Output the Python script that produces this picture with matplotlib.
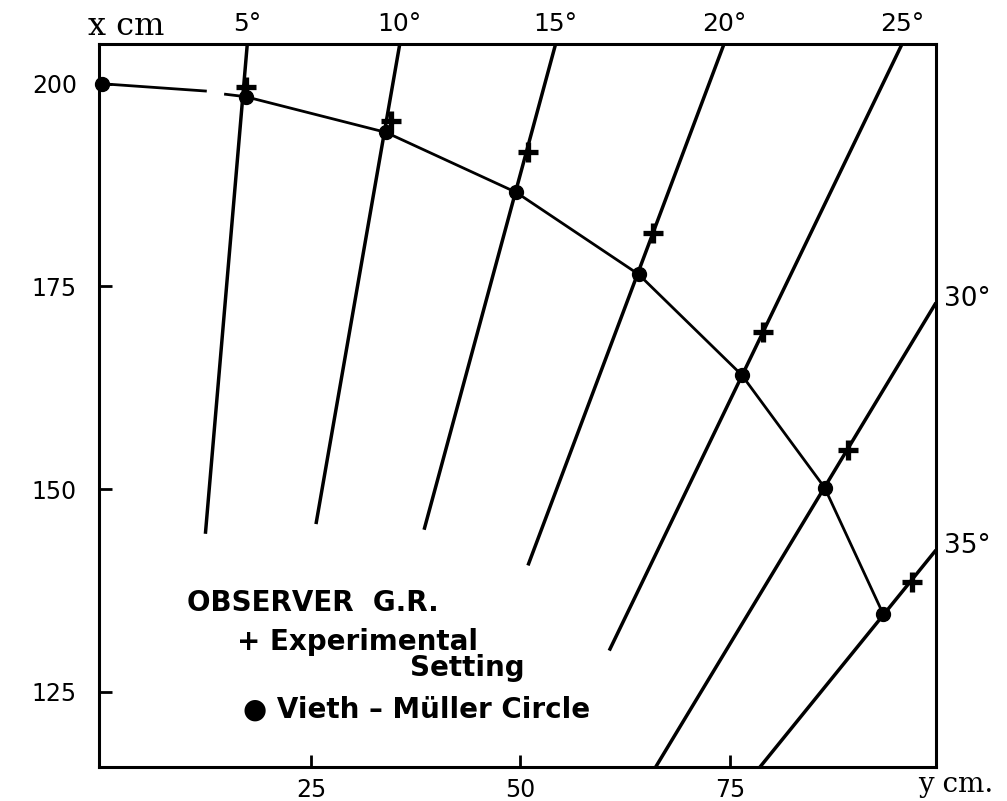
import numpy as np
import matplotlib
matplotlib.use("Agg")
import matplotlib.pyplot as plt

# Vieth-Muller circle points (y cm across, x cm straight ahead)
circle_y = [0, 17.2, 33.95, 49.5, 64.1, 76.4, 86.3, 93.3]
circle_x = [200.0, 198.4, 194.0, 186.6, 176.5, 164.1, 150.2, 134.6]

# drawn arc through those points (the ink breaks just left of 5 deg)
arc_y = [0, 12.4, np.nan, 14.8, 17.2, 33.95, 49.5, 64.1, 76.4, 86.3, 93.3]
arc_x = [200.0, 199.1, np.nan, 198.7, 198.4, 194.0, 186.6, 176.5, 164.1, 150.2, 134.6]

# experimental settings, one per direction
angles = [5, 10, 15, 20, 25, 30, 35]
setting_y = [17.3, 34.55, 50.9, 65.8, 78.9, 89.1, 96.75]
setting_x = [199.6, 195.4, 191.6, 181.6, 169.4, 154.8, 138.5]

# direction lines: start on the frame, end lower down
ray_y0 = [17.4, 35.6, 54.2, 74.3, 95.55, 99.6, 99.6]
ray_x0 = [204.9, 204.9, 204.9, 204.9, 204.9, 173.0, 142.5]
ray_y1 = [12.4, 25.6, 38.5, 50.9, 60.6, 66.0, 78.4]
ray_x1 = [144.5, 145.7, 145.0, 140.6, 130.1, 115.5, 115.5]

y_ticks = [25, 50, 75]
x_ticks = [125, 150, 175, 200]

fig = plt.figure(figsize=(10.07, 8.01), dpi=100)
ax = fig.add_axes([0.0983, 0.0425, 0.8312, 0.9026])

# direction lines
for a, y0, x0, y1, x1 in zip(angles, ray_y0, ray_x0, ray_y1, ray_x1):
    ax.plot([y0, y1], [x0, x1], color='black', lw=2.5, solid_capstyle='butt')
    if x0 > 200:
        ax.annotate(f"{a}°", xy=(y0, x0), xytext=(0, 6), textcoords='offset points',
                    ha='center', va='bottom', fontsize=18, annotation_clip=False)
    else:
        ax.annotate(f"{a}°", xy=(y0, x0), xytext=(6, 3), textcoords='offset points',
                    ha='left', va='center', fontsize=19, annotation_clip=False)

# the circle and its points
ax.plot(arc_y, arc_x, color='black', lw=2.0, zorder=3)
ax.plot(circle_y, circle_x, 'o', color='black', ms=10, zorder=4, clip_on=False)
ax.plot(setting_y, setting_x, '+', color='black', ms=14, mew=3.8, zorder=5)

ax.set_xlim(-0.3, 99.6)
ax.set_ylim(115.75, 204.9)
ax.set_xticks(y_ticks)
ax.set_yticks(x_ticks)
ax.tick_params(direction='in', length=9, width=2, labelsize=17)
ax.tick_params(axis='y', pad=16)
ax.tick_params(axis='x', pad=8)
for s in ax.spines.values():
    s.set_linewidth(2.2)

ax.text(0.033, 1.024, "x cm", transform=ax.transAxes, ha='center', va='center',
        fontsize=23, family='DejaVu Serif')
ax.text(1.023, -0.024, "y cm.", transform=ax.transAxes, ha='center', va='center',
        fontsize=20, family='DejaVu Serif')

# legend written inside the frame
leg = dict(transform=ax.transAxes, fontweight='bold', fontsize=20, va='center', ha='left')
ax.text(0.105, 0.227, "OBSERVER  G.R.", **leg)
ax.text(0.165, 0.173, "+ Experimental", **leg)
ax.text(0.372, 0.137, "Setting", **leg)
ax.text(0.172, 0.079, "\u25CF Vieth \u2013 Müller Circle", zorder=6,
        bbox=dict(facecolor='white', edgecolor='none', pad=1), **leg)

fig.savefig("out.png", dpi=100)
